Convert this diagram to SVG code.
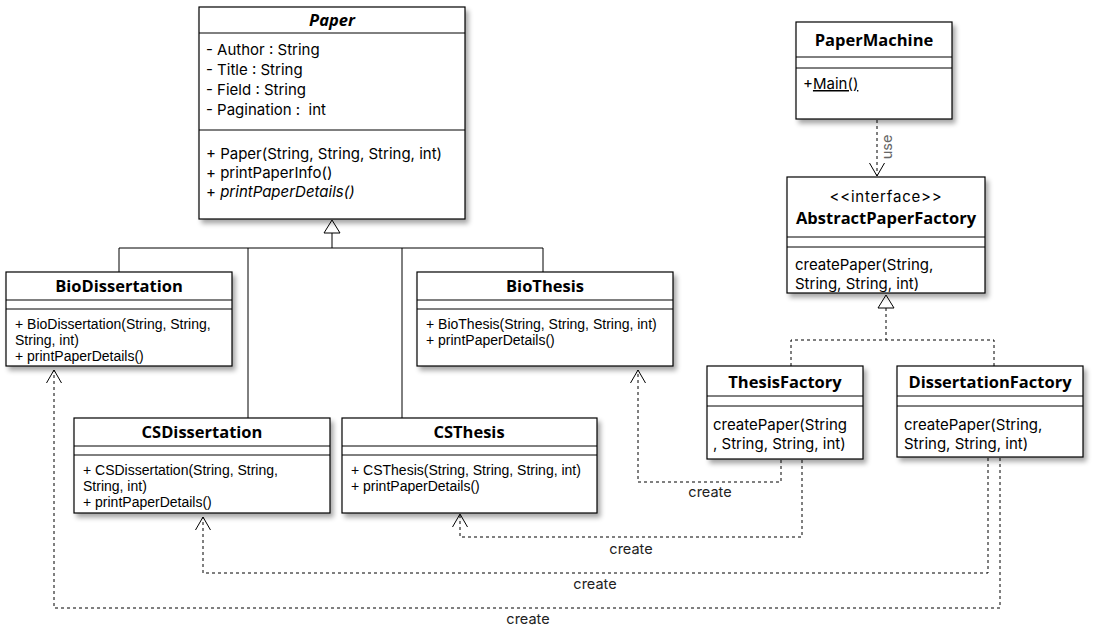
<svg xmlns="http://www.w3.org/2000/svg" width="1108" height="636" viewBox="0 0 1108 636">
<defs>
<filter id="sh" x="-10%" y="-10%" width="130%" height="130%">
<feGaussianBlur in="SourceAlpha" stdDeviation="2.5"/>
<feOffset dx="3" dy="4" result="b"/>
<feComponentTransfer><feFuncA type="linear" slope="0.35"/></feComponentTransfer>
<feMerge><feMergeNode/><feMergeNode in="SourceGraphic"/></feMerge>
</filter>
<marker id="open" viewBox="-14 -9 16 18" refX="0" refY="0" markerWidth="16" markerHeight="18" markerUnits="userSpaceOnUse" orient="auto">
<path d="M-13,-7.5 L0,0 L-13,7.5" fill="none" stroke="#000" stroke-width="1"/>
</marker>
</defs>
<style>
.box{fill:#fff;stroke:#000;stroke-width:1.2}
.ln{stroke:#000;stroke-width:1;fill:none}
.hd{font-family:"Open Sans","Noto Sans",sans-serif;font-weight:bold;font-size:16.5px;text-anchor:middle;fill:#000}
.mg{font-family:Inter,"Open Sans",sans-serif;font-size:15px;fill:#000}
.ar{font-family:"Liberation Sans",Arial,sans-serif;font-size:14px;fill:#000}
.dash{stroke:#000;stroke-width:1;fill:none;stroke-dasharray:3,3}
.lbl{font-family:Inter,"Open Sans",sans-serif;font-size:14.5px;fill:#222;text-anchor:middle}
</style>
<rect width="1108" height="636" fill="#fff"/>

<g id="connectors">
<polygon points="332,220 324,233 340,233" fill="#fff" stroke="#000" stroke-width="1"/>
<line class="ln" x1="332" y1="233" x2="332" y2="248"/>
<polyline class="ln" points="119,272 119,248 543,248 543,272"/>
<line class="ln" x1="248" y1="248" x2="248" y2="418"/>
<line class="ln" x1="402" y1="248" x2="402" y2="418"/>
<line class="dash" x1="877" y1="120" x2="877" y2="176" marker-end="url(#open)"/>
<text class="lbl" transform="translate(892,147) rotate(-90)" style="fill:#666">use</text>
<polygon points="886,295 878,308 894,308" fill="#fff" stroke="#000" stroke-width="1"/>
<line class="dash" x1="886" y1="308" x2="886" y2="340"/>
<polyline class="dash" points="791,366 791,340 994,340 994,366"/>
<polyline class="dash" points="781,460 781,482 638,482 638,370" marker-end="url(#open)"/>
<text class="lbl" x="710" y="497">create</text>
<polyline class="dash" points="802,460 802,537 460,537 460,514" marker-end="url(#open)"/>
<text class="lbl" x="631" y="554">create</text>
<polyline class="dash" points="988,458 988,573 203,573 203,517" marker-end="url(#open)"/>
<text class="lbl" x="595" y="589">create</text>
<polyline class="dash" points="1000,458 1000,608 54,608 54,370" marker-end="url(#open)"/>
<text class="lbl" x="528" y="624">create</text>
</g>

<g id="Paper">
<rect class="box" x="199" y="7" width="266" height="212" filter="url(#sh)"/>
<line class="ln" x1="199" y1="33" x2="465" y2="33"/>
<line class="ln" x1="199" y1="130" x2="465" y2="130"/>
<text class="hd" x="332" y="26" font-style="italic">Paper</text>
<text class="mg" x="206" y="55">- Author : String</text>
<text class="mg" x="206" y="75">- Title : String</text>
<text class="mg" x="206" y="95">- Field : String</text>
<text class="mg" x="206" y="115" xml:space="preserve">- Pagination :  int</text>
<text class="mg" x="206" y="159">+ Paper(String, String, String, int)</text>
<text class="mg" x="206" y="178">+ printPaperInfo()</text>
<text class="mg" x="206" y="197">+ <tspan font-style="italic">printPaperDetails()</tspan></text>
</g>

<g id="BioDissertation">
<rect class="box" x="6" y="272" width="226" height="94" filter="url(#sh)"/>
<line class="ln" x1="6" y1="300" x2="232" y2="300"/>
<line class="ln" x1="6" y1="309" x2="232" y2="309"/>
<text class="hd" x="119" y="292">BioDissertation</text>
<text class="ar" x="15" y="329">+ BioDissertation(String, String,</text>
<text class="ar" x="15" y="345">String, int)</text>
<text class="ar" x="15" y="361">+ printPaperDetails()</text>
</g>

<g id="BioThesis">
<rect class="box" x="417" y="272" width="256" height="94" filter="url(#sh)"/>
<line class="ln" x1="417" y1="300" x2="673" y2="300"/>
<line class="ln" x1="417" y1="309" x2="673" y2="309"/>
<text class="hd" x="545" y="292">BioThesis</text>
<text class="ar" x="426" y="329">+ BioThesis(String, String, String, int)</text>
<text class="ar" x="426" y="345">+ printPaperDetails()</text>
</g>

<g id="CSDissertation">
<rect class="box" x="74" y="418" width="256" height="95" filter="url(#sh)"/>
<line class="ln" x1="74" y1="446" x2="330" y2="446"/>
<line class="ln" x1="74" y1="455" x2="330" y2="455"/>
<text class="hd" x="202" y="438">CSDissertation</text>
<text class="ar" x="83" y="475">+ CSDissertation(String, String,</text>
<text class="ar" x="83" y="491">String, int)</text>
<text class="ar" x="83" y="507">+ printPaperDetails()</text>
</g>

<g id="CSThesis">
<rect class="box" x="342" y="418" width="255" height="95" filter="url(#sh)"/>
<line class="ln" x1="342" y1="446" x2="597" y2="446"/>
<line class="ln" x1="342" y1="455" x2="597" y2="455"/>
<text class="hd" x="469" y="438">CSThesis</text>
<text class="ar" x="351" y="475">+ CSThesis(String, String, String, int)</text>
<text class="ar" x="351" y="491">+ printPaperDetails()</text>
</g>

<g id="PaperMachine">
<rect class="box" x="796" y="22" width="156" height="97" filter="url(#sh)"/>
<line class="ln" x1="796" y1="57" x2="952" y2="57"/>
<line class="ln" x1="796" y1="68" x2="952" y2="68"/>
<text class="hd" x="874" y="46">PaperMachine</text>
<text class="mg" x="803" y="89">+<tspan text-decoration="underline">Main()</tspan></text>
</g>

<g id="AbstractPaperFactory">
<rect class="box" x="787" y="177" width="198" height="116" filter="url(#sh)"/>
<line class="ln" x1="787" y1="237" x2="985" y2="237"/>
<line class="ln" x1="787" y1="247" x2="985" y2="247"/>
<text class="mg" x="886" y="202" text-anchor="middle" letter-spacing="0.8">&lt;&lt;interface&gt;&gt;</text>
<text class="hd" x="886" y="224">AbstractPaperFactory</text>
<text class="mg" x="795" y="270">createPaper(String,</text>
<text class="mg" x="795" y="289">String, String, int)</text>
</g>

<g id="ThesisFactory">
<rect class="box" x="707" y="366" width="156" height="93" filter="url(#sh)"/>
<line class="ln" x1="707" y1="396" x2="863" y2="396"/>
<line class="ln" x1="707" y1="406" x2="863" y2="406"/>
<text class="hd" x="785" y="388">ThesisFactory</text>
<text class="mg" x="713" y="430">createPaper(String</text>
<text class="mg" x="713" y="449">, String, String, int)</text>
</g>

<g id="DissertationFactory">
<rect class="box" x="897" y="366" width="186" height="91" filter="url(#sh)"/>
<line class="ln" x1="897" y1="396" x2="1083" y2="396"/>
<line class="ln" x1="897" y1="406" x2="1083" y2="406"/>
<text class="hd" x="990" y="388">DissertationFactory</text>
<text class="mg" x="904" y="430">createPaper(String,</text>
<text class="mg" x="904" y="449">String, String, int)</text>
</g>
</svg>
